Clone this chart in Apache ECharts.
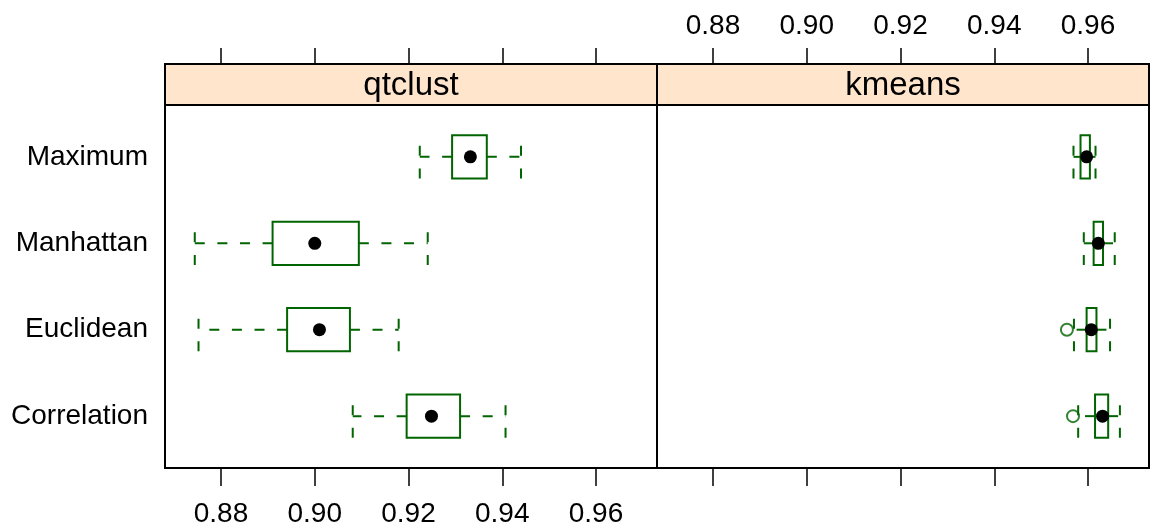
<!DOCTYPE html>
<html>
<head>
<meta charset="utf-8">
<script src="https://cdn.jsdelivr.net/npm/echarts@6/dist/echarts.min.js"></script>
<style>
  html, body { margin: 0; padding: 0; background: #fff; }
  #chart { width: 1151px; height: 530px; }
</style>
</head>
<body>
<div id="chart"></div>
<script>
// Distance measures, listed bottom to top (levels 1..4)
const categories = ['Correlation', 'Euclidean', 'Manhattan', 'Maximum'];
const panels = ['qtclust', 'kmeans'];
const xTicks = [0.88, 0.90, 0.92, 0.94, 0.96];

// Five-number summaries per distance: [lower whisker, Q1, median, Q3, upper whisker]
const qtclustStats = [
  [0.9081, 0.9196, 0.9249, 0.9310, 0.9407],
  [0.8752, 0.8941, 0.9010, 0.9075, 0.9179],
  [0.8744, 0.8910, 0.9000, 0.9094, 0.9241],
  [0.9224, 0.9293, 0.9332, 0.9367, 0.9440]
];
const kmeansStats = [
  [0.9579, 0.9615, 0.9631, 0.9643, 0.9668],
  [0.9570, 0.9597, 0.9607, 0.9618, 0.9647],
  [0.9591, 0.9612, 0.9622, 0.9632, 0.9657],
  [0.9569, 0.9584, 0.9597, 0.9604, 0.9616]
];
// Outlying points: [value, level]
const qtclustOutliers = [];
const kmeansOutliers = [
  [0.9568, 1],
  [0.9555, 2]
];

const GREEN = '#006400';
const FONT = '"Liberation Sans", Arial, Helvetica, sans-serif';
const X_MIN = 0.86805, X_MAX = 0.97301;

function boxData(stats) {
  return stats.map((s, i) => [i + 1].concat(s));
}

// bwplot-style box: dashed whiskers drawn outward from the box, dashed caps, filled median dot
function renderBox(params, api) {
  const lvl = api.value(0);
  const p = (k) => api.coord([api.value(k), lvl]);
  const [xMin, cy] = p(1);
  const xQ1 = p(2)[0], xMed = p(3)[0], xQ3 = p(4)[0], xMax = p(5)[0];
  const h = api.size([0, 0.5])[1];
  const top = cy - h / 2, bot = cy + h / 2;
  const dashed = { stroke: GREEN, lineWidth: 2, lineDash: [10, 12.6], fill: null };
  const solid = { stroke: GREEN, lineWidth: 2, fill: null };
  return {
    type: 'group',
    children: [
      { type: 'line', shape: { x1: xQ1, y1: cy, x2: xMin, y2: cy }, style: dashed },
      { type: 'line', shape: { x1: xQ3, y1: cy, x2: xMax, y2: cy }, style: dashed },
      { type: 'line', shape: { x1: xMin, y1: bot, x2: xMin, y2: top }, style: dashed },
      { type: 'line', shape: { x1: xMax, y1: bot, x2: xMax, y2: top }, style: dashed },
      { type: 'rect', shape: { x: xQ1, y: top, width: xQ3 - xQ1, height: h }, style: solid },
      { type: 'circle', shape: { cx: xMed, cy: cy, r: 6.5 }, style: { fill: '#000' } }
    ]
  };
}

const PANEL_TOP = 105, PANEL_H = 363, PANEL_W = 492, STRIP_H = 41;
const panelLeft = [165, 657];

function xAxis(gridIndex, position, showLabels) {
  return {
    type: 'value', gridIndex, position, min: X_MIN, max: X_MAX,
    offset: position === 'top' ? STRIP_H : 0,
    axisLine: { show: false },
    splitLine: { show: false },
    axisTick: {
      show: true, customValues: xTicks, length: position === 'top' ? 16 : 18,
      lineStyle: { color: '#000', width: 1.5 }
    },
    axisLabel: {
      show: showLabels, customValues: xTicks,
      formatter: (v) => v.toFixed(2),
      fontSize: 28, fontFamily: FONT, color: '#000',
      margin: position === 'top' ? 24 : 32
    }
  };
}

function yAxis(gridIndex, showLabels) {
  return {
    type: 'value', gridIndex, min: 0.4, max: 4.6,
    axisLine: { show: false },
    axisTick: { show: false },
    splitLine: { show: false },
    axisLabel: {
      show: showLabels, customValues: [1, 2, 3, 4],
      formatter: (v) => categories[Math.round(v) - 1],
      fontSize: 28, fontFamily: FONT, color: '#000', margin: 17
    }
  };
}

const chart = echarts.init(document.getElementById('chart'), null, { renderer: 'canvas' });

const stripGraphics = [];
panels.forEach((name, i) => {
  stripGraphics.push({
    type: 'rect',
    shape: { x: panelLeft[i], y: PANEL_TOP - STRIP_H, width: PANEL_W, height: STRIP_H },
    style: { fill: '#ffe5cc', stroke: '#000', lineWidth: 2 }
  });
  stripGraphics.push({
    type: 'text',
    x: panelLeft[i] + PANEL_W / 2, y: PANEL_TOP - STRIP_H / 2 + 1,
    style: {
      text: name, fontSize: 33, fontFamily: FONT, fill: '#000',
      align: 'center', verticalAlign: 'middle'
    }
  });
});

chart.setOption({
  animation: false,
  backgroundColor: '#fff',
  grid: panelLeft.map((left) => ({
    left, top: PANEL_TOP, width: PANEL_W, height: PANEL_H,
    show: true, borderColor: '#000', borderWidth: 2, backgroundColor: 'transparent'
  })),
  xAxis: [
    xAxis(0, 'bottom', true),
    xAxis(0, 'top', false),
    xAxis(1, 'bottom', false),
    xAxis(1, 'top', true)
  ],
  yAxis: [yAxis(0, true), yAxis(1, false)],
  graphic: stripGraphics,
  series: [
    {
      name: panels[0], type: 'custom', xAxisIndex: 0, yAxisIndex: 0,
      renderItem: renderBox, encode: { x: [1, 2, 3, 4, 5], y: 0 },
      data: boxData(qtclustStats)
    },
    {
      name: panels[1], type: 'custom', xAxisIndex: 2, yAxisIndex: 1,
      renderItem: renderBox, encode: { x: [1, 2, 3, 4, 5], y: 0 },
      data: boxData(kmeansStats)
    },
    {
      type: 'scatter', xAxisIndex: 0, yAxisIndex: 0,
      symbol: 'circle', symbolSize: 12,
      itemStyle: { color: 'rgba(0,0,0,0)', borderColor: GREEN, borderWidth: 2 },
      data: qtclustOutliers
    },
    {
      type: 'scatter', xAxisIndex: 2, yAxisIndex: 1,
      symbol: 'circle', symbolSize: 12,
      itemStyle: { color: 'rgba(0,0,0,0)', borderColor: GREEN, borderWidth: 2 },
      data: kmeansOutliers
    }
  ]
});
</script>
</body>
</html>
